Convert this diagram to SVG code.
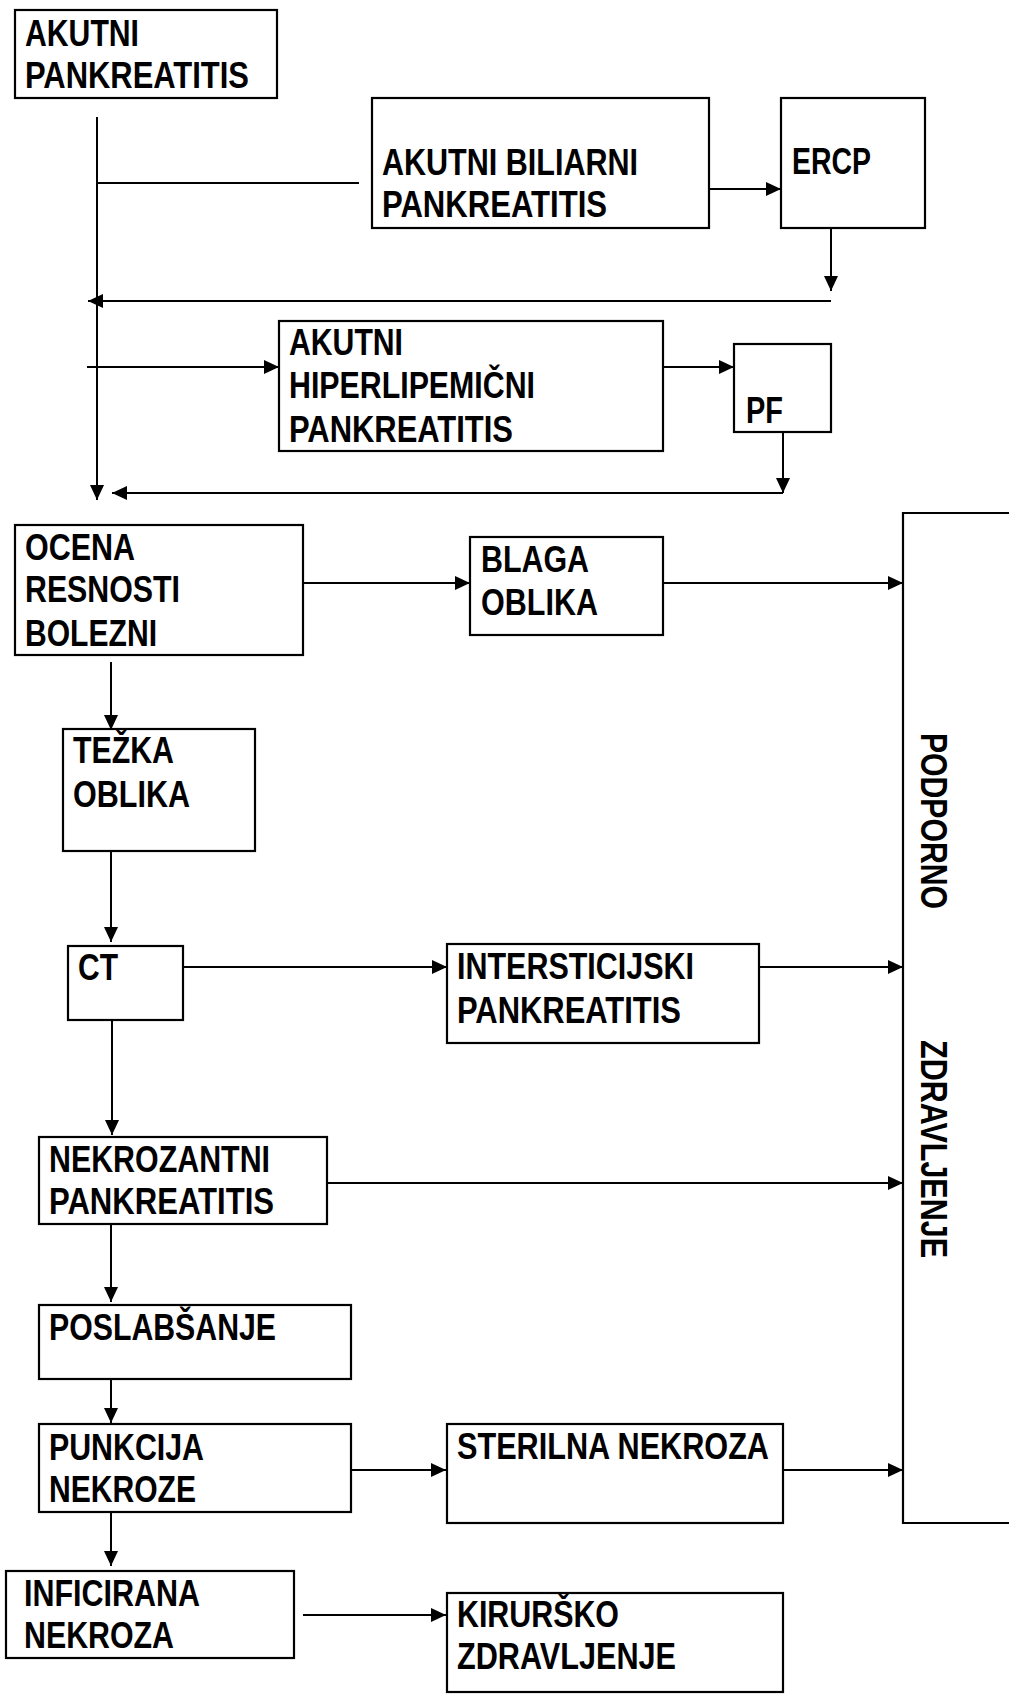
<svg xmlns="http://www.w3.org/2000/svg" width="1009" height="1697" viewBox="0 0 1009 1697">
<defs>
<marker id="ah" markerUnits="userSpaceOnUse" markerWidth="15" markerHeight="14" refX="15" refY="7" orient="auto">
<path d="M0,0 L15,7 L0,14 z" fill="#000"/>
</marker>
<style>
.box{fill:#fff;stroke:#000;stroke-width:2.2}
.t{font-family:"Liberation Sans",Arial,sans-serif;font-weight:bold;font-size:37px;fill:#000}
.c{fill:none;stroke:#000;stroke-width:2}
.a{marker-end:url(#ah)}
</style>
</defs>
<rect width="1009" height="1697" fill="#fff"/>
<g id="connectors">
<line class="c a" x1="97" y1="117" x2="97" y2="500"/>
<line class="c" x1="97" y1="183" x2="359" y2="183"/>
<line class="c a" x1="709" y1="189" x2="781" y2="189"/>
<line class="c a" x1="831" y1="220" x2="831" y2="291"/>
<line class="c a" x1="831" y1="301" x2="88" y2="301"/>
<line class="c a" x1="87" y1="367" x2="279" y2="367"/>
<line class="c a" x1="663" y1="367" x2="734" y2="367"/>
<line class="c a" x1="783" y1="422" x2="783" y2="493"/>
<line class="c a" x1="783" y1="493" x2="112" y2="493"/>
<line class="c a" x1="303" y1="583" x2="470" y2="583"/>
<line class="c a" x1="663" y1="583" x2="903" y2="583"/>
<line class="c a" x1="111" y1="662" x2="111" y2="730"/>
<line class="c a" x1="111" y1="847" x2="111" y2="942"/>
<line class="c a" x1="183" y1="967" x2="447" y2="967"/>
<line class="c a" x1="759" y1="967" x2="903" y2="967"/>
<line class="c a" x1="112" y1="1015" x2="112" y2="1135"/>
<line class="c a" x1="327" y1="1183" x2="903" y2="1183"/>
<line class="c a" x1="111" y1="1208" x2="111" y2="1302"/>
<line class="c a" x1="111" y1="1375" x2="111" y2="1423"/>
<line class="c a" x1="351" y1="1470" x2="446" y2="1470"/>
<line class="c a" x1="783" y1="1470" x2="903" y2="1470"/>
<line class="c a" x1="111" y1="1500" x2="111" y2="1566"/>
<line class="c a" x1="303" y1="1615" x2="446" y2="1615"/>
</g>
<g id="n-akutni">
<rect class="box" x="15" y="10" width="262" height="88"/>
<text class="t" x="25" y="46" textLength="114" lengthAdjust="spacingAndGlyphs">AKUTNI</text>
<text class="t" x="25" y="88" textLength="224" lengthAdjust="spacingAndGlyphs">PANKREATITIS</text>
</g>
<g id="n-biliarni">
<rect class="box" x="372" y="98" width="337" height="130"/>
<text class="t" x="382" y="175" textLength="256" lengthAdjust="spacingAndGlyphs">AKUTNI BILIARNI</text>
<text class="t" x="382" y="217" textLength="225" lengthAdjust="spacingAndGlyphs">PANKREATITIS</text>
</g>
<g id="n-ercp">
<rect class="box" x="781" y="98" width="144" height="130"/>
<text class="t" x="792" y="174" textLength="79" lengthAdjust="spacingAndGlyphs">ERCP</text>
</g>
<g id="n-hiper">
<rect class="box" x="279" y="321" width="384" height="130"/>
<text class="t" x="289" y="355" textLength="114" lengthAdjust="spacingAndGlyphs">AKUTNI</text>
<text class="t" x="289" y="398" textLength="246" lengthAdjust="spacingAndGlyphs">HIPERLIPEMIČNI</text>
<text class="t" x="289" y="442" textLength="224" lengthAdjust="spacingAndGlyphs">PANKREATITIS</text>
</g>
<g id="n-pf">
<rect class="box" x="734" y="344" width="97" height="88"/>
<text class="t" x="746" y="423" textLength="37" lengthAdjust="spacingAndGlyphs">PF</text>
</g>
<g id="n-ocena">
<rect class="box" x="15" y="525" width="288" height="130"/>
<text class="t" x="25" y="560" textLength="110" lengthAdjust="spacingAndGlyphs">OCENA</text>
<text class="t" x="25" y="602" textLength="155" lengthAdjust="spacingAndGlyphs">RESNOSTI</text>
<text class="t" x="25" y="646" textLength="132" lengthAdjust="spacingAndGlyphs">BOLEZNI</text>
</g>
<g id="n-blaga">
<rect class="box" x="470" y="537" width="193" height="98"/>
<text class="t" x="481" y="572" textLength="108" lengthAdjust="spacingAndGlyphs">BLAGA</text>
<text class="t" x="481" y="615" textLength="117" lengthAdjust="spacingAndGlyphs">OBLIKA</text>
</g>
<g id="n-podporno">
<path d="M1009,513 H903 V1523 H1009" fill="none" stroke="#000" stroke-width="2.2"/>
<text class="t" transform="translate(921,733) rotate(90)" textLength="176" lengthAdjust="spacingAndGlyphs">PODPORNO</text>
<text class="t" transform="translate(921,1040) rotate(90)" textLength="218" lengthAdjust="spacingAndGlyphs">ZDRAVLJENJE</text>
</g>
<g id="n-tezka">
<rect class="box" x="63" y="729" width="192" height="122"/>
<text class="t" x="73" y="763" textLength="101" lengthAdjust="spacingAndGlyphs">TEŽKA</text>
<text class="t" x="73" y="807" textLength="117" lengthAdjust="spacingAndGlyphs">OBLIKA</text>
</g>
<g id="n-ct">
<rect class="box" x="68" y="946" width="115" height="74"/>
<text class="t" x="78" y="980" textLength="40" lengthAdjust="spacingAndGlyphs">CT</text>
</g>
<g id="n-inter">
<rect class="box" x="447" y="944" width="312" height="99"/>
<text class="t" x="457" y="979" textLength="237" lengthAdjust="spacingAndGlyphs">INTERSTICIJSKI</text>
<text class="t" x="457" y="1023" textLength="224" lengthAdjust="spacingAndGlyphs">PANKREATITIS</text>
</g>
<g id="n-nekrozantni">
<rect class="box" x="39" y="1137" width="288" height="87"/>
<text class="t" x="49" y="1172" textLength="221" lengthAdjust="spacingAndGlyphs">NEKROZANTNI</text>
<text class="t" x="49" y="1214" textLength="225" lengthAdjust="spacingAndGlyphs">PANKREATITIS</text>
</g>
<g id="n-poslab">
<rect class="box" x="39" y="1305" width="312" height="74"/>
<text class="t" x="49" y="1340" textLength="227" lengthAdjust="spacingAndGlyphs">POSLABŠANJE</text>
</g>
<g id="n-punkcija">
<rect class="box" x="39" y="1424" width="312" height="88"/>
<text class="t" x="49" y="1460" textLength="155" lengthAdjust="spacingAndGlyphs">PUNKCIJA</text>
<text class="t" x="49" y="1502" textLength="147" lengthAdjust="spacingAndGlyphs">NEKROZE</text>
</g>
<g id="n-sterilna">
<rect class="box" x="447" y="1424" width="336" height="99"/>
<text class="t" x="457" y="1459" textLength="312" lengthAdjust="spacingAndGlyphs">STERILNA NEKROZA</text>
</g>
<g id="n-inficirana">
<rect class="box" x="6" y="1571" width="288" height="87"/>
<text class="t" x="24" y="1606" textLength="176" lengthAdjust="spacingAndGlyphs">INFICIRANA</text>
<text class="t" x="24" y="1648" textLength="150" lengthAdjust="spacingAndGlyphs">NEKROZA</text>
</g>
<g id="n-kirursko">
<rect class="box" x="447" y="1593" width="336" height="99"/>
<text class="t" x="457" y="1627" textLength="162" lengthAdjust="spacingAndGlyphs">KIRURŠKO</text>
<text class="t" x="457" y="1669" textLength="219" lengthAdjust="spacingAndGlyphs">ZDRAVLJENJE</text>
</g>
</svg>
